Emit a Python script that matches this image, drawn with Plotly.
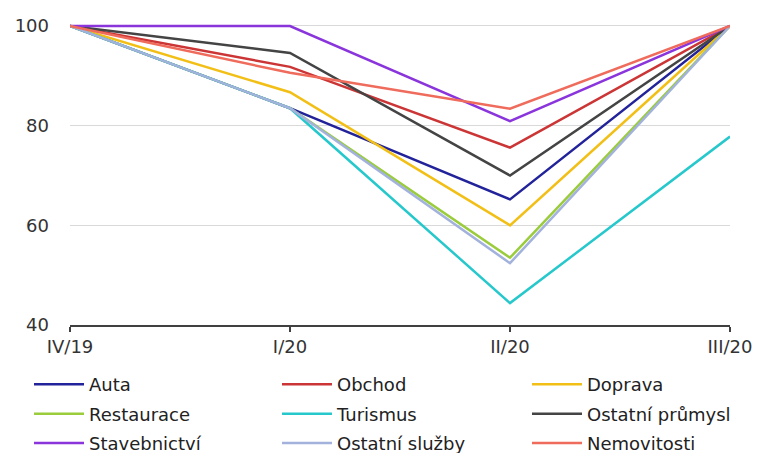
import plotly.graph_objects as go

quarters = ["IV/19", "I/20", "II/20", "III/20"]

auta = [100, 83.5, 65.2, 100]
obchod = [100, 91.8, 75.6, 100]
doprava = [100, 86.7, 60.0, 100]
restaurace = [100, 83.5, 53.5, 100]
turismus = [100, 83.5, 44.4, 77.8]
ostatni_prumysl = [100, 94.6, 70.0, 100]
stavebnictvi = [100, 100, 80.9, 100]
ostatni_sluzby = [100, 83.5, 52.4, 100]
nemovitosti = [100, 90.6, 83.4, 100]

series = [
    ("Auta", auta, "#22229a", "legend"),
    ("Obchod", obchod, "#cc3535", "legend2"),
    ("Doprava", doprava, "#f2bf16", "legend3"),
    ("Restaurace", restaurace, "#9acc3c", "legend"),
    ("Turismus", turismus, "#26c8cc", "legend2"),
    ("Ostatní průmysl", ostatni_prumysl, "#444444", "legend3"),
    ("Stavebnictví", stavebnictvi, "#8a35dc", "legend"),
    ("Ostatní služby", ostatni_sluzby, "#a2b2dc", "legend2"),
    ("Nemovitosti", nemovitosti, "#ef6b5c", "legend3"),
]

fig = go.Figure()
for name, vals, color, lg in series:
    fig.add_trace(go.Scatter(
        x=list(range(len(quarters))), y=vals, name=name, mode="lines",
        line=dict(color=color, width=2.5), legend=lg, legendgroup=name,
    ))

legend_font = dict(family="DejaVu Sans", size=18, color="#222222")
common = dict(orientation="v", yanchor="top", xanchor="left", y=-0.135,
              font=legend_font, bgcolor="rgba(0,0,0,0)",
              traceorder="grouped", tracegroupgap=3, itemwidth=50)

fig.update_layout(
    width=754, height=445,
    margin=dict(l=62, r=32, t=13, b=128, autoexpand=False),
    paper_bgcolor="white", plot_bgcolor="white",
    font=dict(family="DejaVu Sans", size=17, color="#333333"),
    showlegend=True,
    legend=dict(x=-0.0621, **common),
    legend2=dict(x=0.3136, **common),
    legend3=dict(x=0.6924, **common),
    xaxis=dict(
        range=[0, 3], tickmode="array", tickvals=list(range(len(quarters))),
        ticktext=quarters, showgrid=False, zeroline=False,
        showline=True, linecolor="#404040", linewidth=1.5,
        ticks="outside", ticklen=5, tickcolor="#404040", tickwidth=1.5,
        tickfont=dict(size=18, color="#333333"),
    ),
    yaxis=dict(
        range=[40, 101], tickmode="array", tickvals=[40, 60, 80, 100],
        showgrid=True, gridcolor="#d9d9d9", gridwidth=1, zeroline=False,
        showline=False, ticks="", ticklabelstandoff=20,
        tickfont=dict(size=18, color="#333333"),
    ),
)

fig.write_html("out.html")
